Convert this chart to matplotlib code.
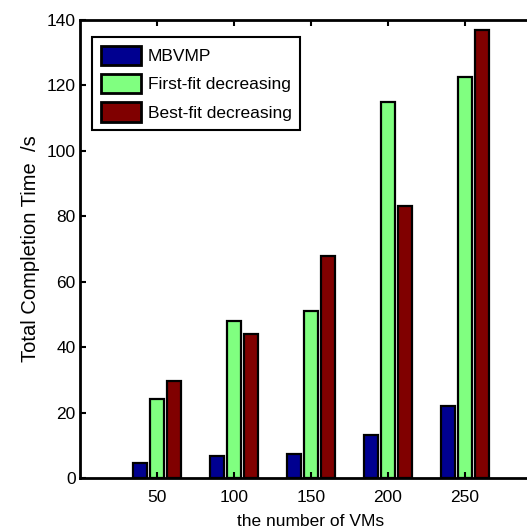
import numpy as np
import matplotlib.pyplot as plt

plt.rcParams['font.family'] = ['Liberation Sans', 'DejaVu Sans']

vms = [50, 100, 150, 200, 250]
mbvmp = [4.5, 6.8, 7.4, 13, 22]
first_fit = [24, 48, 51, 115, 122.5]
best_fit = [29.5, 44, 68, 83, 137]

fig = plt.figure(figsize=(5.27, 5.30), dpi=100)
ax = fig.add_axes([80 / 527, 52 / 530, 462 / 527, 458 / 530])

x = np.array(vms, dtype=float)
w = 9
ax.bar(x - 11, mbvmp, w, color='#000090', edgecolor='black', linewidth=1.6, label='MBVMP')
ax.bar(x, first_fit, w, color='#80ff80', edgecolor='black', linewidth=1.6, label='First-fit decreasing')
ax.bar(x + 11, best_fit, w, color='#800000', edgecolor='black', linewidth=1.6, label='Best-fit decreasing')

ax.set_xlim(0, 300)
ax.set_ylim(0, 140)
ax.set_xticks(vms)
ax.set_yticks(range(0, 141, 20))
ax.tick_params(direction='in', length=4, width=1.5, labelsize=12.5, top=True, right=True)
ax.tick_params(axis='x', pad=9)
ax.tick_params(axis='y', pad=3)
for s in ax.spines.values():
    s.set_linewidth(2)

ax.set_xlabel('the number of VMs', fontsize=12.5, labelpad=6)
ax.set_ylabel('Total Completion Time  /s', fontsize=14.5, labelpad=5)

leg = ax.legend(loc='upper left', bbox_to_anchor=(12 / 462, 1 - 17 / 458), fontsize=12.5,
                fancybox=False, edgecolor='black', framealpha=1, borderaxespad=0,
                handlelength=2.3, handleheight=1.35, labelspacing=0.5, handletextpad=0.4,
                borderpad=0.5)
leg.get_frame().set_linewidth(1.5)
for p in leg.get_patches():
    p.set_linewidth(2)

fig.savefig('out.png', dpi=100)
